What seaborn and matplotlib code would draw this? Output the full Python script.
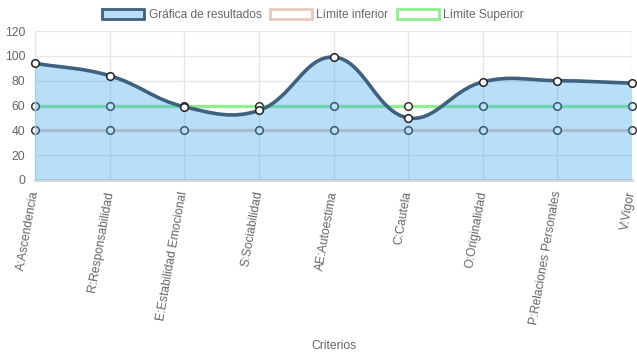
import numpy as np
import matplotlib
matplotlib.use("Agg")
import matplotlib.pyplot as plt
import seaborn as sns
from matplotlib.path import Path
from matplotlib.patches import PathPatch, Patch

# datos
criterios = ["A:Ascendencia", "R:Responsabilidad", "E:Estabilidad Emocional",
             "S:Sociabilidad", "AE:Autoestima", "C:Cautela", "O:Originalidad",
             "P:Relaciones Personales", "V:Vigor"]
resultados = [94, 84, 59, 56, 99, 50, 79, 80, 78]
limite_inferior = [40, 40, 40, 40, 40, 40, 40, 40, 40]
limite_superior = [60, 60, 60, 60, 60, 60, 60, 60, 60]
y_ticks = [0, 20, 40, 60, 80, 100, 120]

c_linea = "#3f6180"
c_relleno = (54 / 255, 162 / 255, 235 / 255, 0.35)
c_inf = "#e8cabd"
c_sup = "#90ee90"
c_texto = "#666666"
c_grid = "#e6e6e6"

sns.set_style("whitegrid")
plt.rcParams["font.family"] = ["Liberation Sans", "DejaVu Sans"]

fig = plt.figure(figsize=(6.37, 3.59), dpi=100)
ax = fig.add_axes([35 / 637, 1 - 180 / 359, 597 / 637, 149 / 359])

x = np.arange(len(criterios))
ax.set_xlim(0, len(criterios) - 1)
ax.set_ylim(0, 120)

# curva tipo Chart.js (tension 0.4) con bezier cubicas
sx = 597 / (len(criterios) - 1)
sy = 149 / 120


def bezier_path(xs, ys, t=0.4, cerrar=False):
    pts = np.column_stack([xs, ys]).astype(float)
    n = len(pts)
    cp_prev = pts.copy()
    cp_next = pts.copy()
    for i in range(n):
        p0 = pts[max(i - 1, 0)]
        p1 = pts[i]
        p2 = pts[min(i + 1, n - 1)]
        d01 = np.hypot((p1[0] - p0[0]) * sx, (p1[1] - p0[1]) * sy)
        d12 = np.hypot((p2[0] - p1[0]) * sx, (p2[1] - p1[1]) * sy)
        tot = d01 + d12
        s01 = d01 / tot if tot else 0
        s12 = d12 / tot if tot else 0
        cp_prev[i] = p1 - t * s01 * (p2 - p0)
        cp_next[i] = p1 + t * s12 * (p2 - p0)
    cp_prev[:, 1] = np.clip(cp_prev[:, 1], 0, 120)
    cp_next[:, 1] = np.clip(cp_next[:, 1], 0, 120)
    verts = [pts[0]]
    codes = [Path.MOVETO]
    for i in range(1, n):
        verts += [cp_next[i - 1], cp_prev[i], pts[i]]
        codes += [Path.CURVE4] * 3
    if cerrar:
        verts += [(pts[-1][0], 0), (pts[0][0], 0), pts[0]]
        codes += [Path.LINETO, Path.LINETO, Path.CLOSEPOLY]
    return Path(verts, codes)


# limites (debajo del relleno)
sns.lineplot(x=x, y=limite_inferior, color=c_inf, linewidth=2.4, ax=ax, zorder=2)
sns.lineplot(x=x, y=limite_superior, color=c_sup, linewidth=2.4, ax=ax, zorder=2)
for serie in (limite_inferior, limite_superior):
    sns.scatterplot(x=x, y=serie, s=30, color="white", edgecolor="#333333",
                    linewidth=1.1, ax=ax, zorder=2.5, clip_on=False)

# resultados
ax.add_patch(PathPatch(bezier_path(x, resultados, cerrar=True),
                       facecolor=c_relleno, edgecolor="none", zorder=3))
ax.add_patch(PathPatch(bezier_path(x, resultados), facecolor="none",
                       edgecolor=c_linea, linewidth=2.6, zorder=4,
                       capstyle="round"))
sns.scatterplot(x=x, y=resultados, s=30, color="white", edgecolor="#222222",
                linewidth=1.1, ax=ax, zorder=5, clip_on=False)

# ejes
ax.set_yticks(y_ticks)
ax.set_xticks(x)
ax.set_xticklabels(criterios, rotation=80, ha="right", va="center",
                   rotation_mode="anchor")
ax.tick_params(axis="both", colors=c_grid, labelcolor=c_texto, labelsize=8.7,
               length=6, width=1, pad=1)
ax.tick_params(axis="x", length=6, pad=2)
ax.grid(True, color=c_grid, linewidth=1)
ax.set_axisbelow(True)
for lado in ("top", "right"):
    ax.spines[lado].set_visible(False)
ax.spines["left"].set_color(c_grid)
ax.spines["left"].set_linewidth(1)
ax.spines["bottom"].set_color("#d6d6d6")
ax.spines["bottom"].set_linewidth(2)
ax.set_xlabel("")
fig.text(334 / 637, 1 - 346 / 359, "Criterios", ha="center", va="center",
         color=c_texto, fontsize=8.7)

# leyenda
handles = [
    Patch(facecolor=c_relleno, edgecolor=c_linea, linewidth=2),
    Patch(facecolor="white", edgecolor=c_inf, linewidth=2),
    Patch(facecolor="white", edgecolor=c_sup, linewidth=2),
]
etiquetas = ["Gráfica de resultados", "Límite inferior", "Límite Superior"]
fig.legend(handles, etiquetas, loc="center", bbox_to_anchor=(313 / 637, 1 - 15 / 359),
           ncol=3, frameon=False, fontsize=8.6, labelcolor=c_texto,
           handlelength=3.5, handleheight=1.0, handletextpad=0.4,
           columnspacing=0.7, borderaxespad=0)

fig.savefig("out.png", dpi=100)
